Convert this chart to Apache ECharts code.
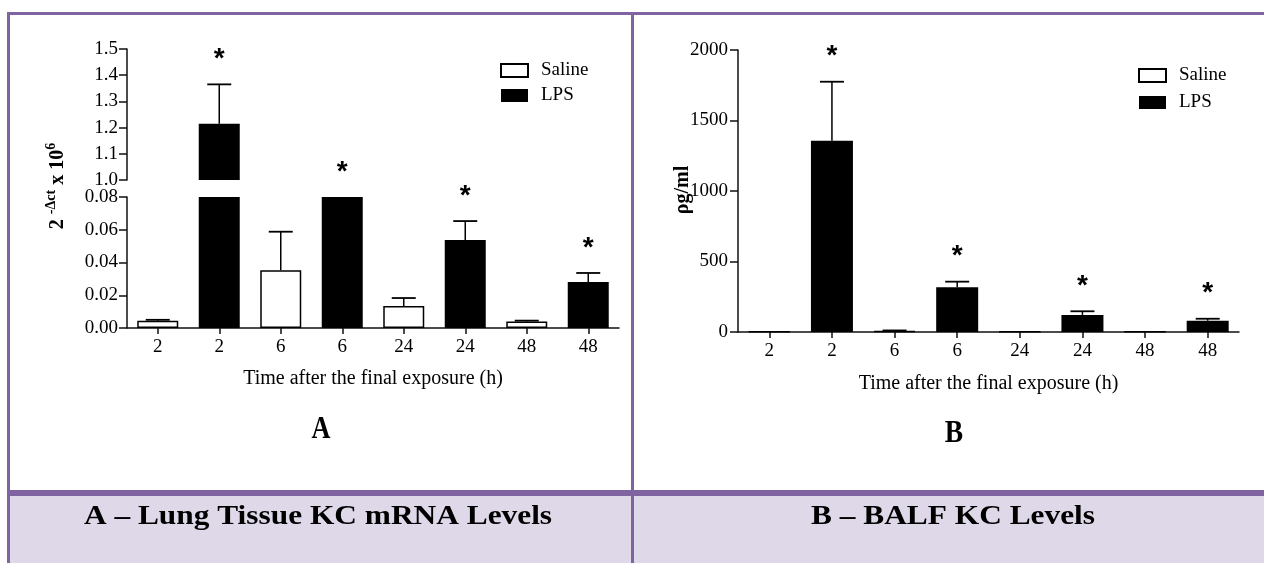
<!DOCTYPE html>
<html>
<head>
<meta charset="utf-8">
<script src="https://cdn.jsdelivr.net/npm/echarts@6/dist/echarts.min.js"></script>
<style>
html,body{margin:0;padding:0;background:#fff;}
#c{width:1264px;height:563px;}
</style>
</head>
<body>
<div id="c"></div>
<script>
// ---------- data ----------
const timePoints = ['2', '6', '24', '48'];
const seriesNames = ['Saline', 'LPS'];

// Panel A: lung tissue KC mRNA (2^-Δct x 10^6), broken axis
const salineA = [0.0045, 0.0352, 0.0134, 0.0039];
const salineSemA = [0.0005, 0.0236, 0.0049, 0.0006];
const lpsA = [1.215, 0.08, 0.0537, 0.0281];
const lpsSemA = [0.15, 0, 0.0116, 0.0055];

// Panel B: BALF KC (pg/ml)
const salineB = [5, 8, 4, 4];
const salineSemB = [2, 3, 2, 2];
const lpsB = [1357, 317, 121, 80];
const lpsSemB = [418, 40, 26, 14];

const lpsSignificant = [true, true, true, true];

// axis ranges [min, max, step]
const axisAUpper = [1.0, 1.5, 0.1];
const axisALower = [0, 0.08, 0.02];
const axisB = [0, 2000, 500];

const xAxisTitle = 'Time after the final exposure (h)';
const captions = ['A \u2013 Lung Tissue KC mRNA Levels', 'B \u2013 BALF KC Levels'];

// ---------- helpers ----------
const categories = timePoints.flatMap(t => [t, t]);
const salineSlots = vals => vals.flatMap(v => [v, null]);
const lpsSlots = vals => vals.flatMap(v => [null, v]);
function errData(sal, salSem, lps, lpsSem) {
  const out = [];
  for (let i = 0; i < sal.length; i++) {
    out.push([2 * i, sal[i], sal[i] + salSem[i], 0]);
    out.push([2 * i + 1, lps[i], lps[i] + lpsSem[i], lpsSignificant[i] ? 1 : 0]);
  }
  return out;
}
const errA = errData(salineA, salineSemA, lpsA, lpsSemA);
const errB = errData(salineB, salineSemB, lpsB, lpsSemB);

const SERIF = '"Liberation Serif", "Times New Roman", serif';
const AXIS_COLOR = '#111';

function makeErr(min, max) {
  return function (params, api) {
    const x = api.value(0), v = api.value(1), top = api.value(2), sig = api.value(3);
    if (v < min - 1e-9 || v > max + 1e-9) return null;
    const base = api.coord([x, v]);
    const tp = api.coord([x, Math.min(top, max)]);
    const children = [];
    if (tp[1] < base[1] - 0.3) {
      children.push({ type: 'line', shape: { x1: base[0], y1: base[1], x2: tp[0], y2: tp[1] },
        style: { stroke: '#000', lineWidth: 1.5 } });
      children.push({ type: 'line', shape: { x1: tp[0] - 12, y1: tp[1], x2: tp[0] + 12, y2: tp[1] },
        style: { stroke: '#000', lineWidth: 1.8 } });
    }
    if (sig) {
      children.push({ type: 'text', x: tp[0], y: tp[1] - 25,
        style: { text: '*', textAlign: 'center', textVerticalAlign: 'middle',
          font: 'bold 28px "Liberation Sans", Arial, sans-serif', fill: '#000' } });
    }
    return { type: 'group', children };
  };
}

function valueAxis(grid, rng, digits, margin) {
  return {
    type: 'value', gridIndex: grid, min: rng[0], max: rng[1], interval: rng[2],
    splitLine: { show: false },
    axisLine: { show: true, lineStyle: { color: AXIS_COLOR, width: 1.5 } },
    axisTick: { show: true, length: 8, lineStyle: { color: AXIS_COLOR, width: 1.5 } },
    axisLabel: { margin: margin, color: '#000', fontFamily: SERIF, fontSize: 19,
      formatter: v => v.toFixed(digits) }
  };
}
function catAxis(grid, visible, gap) {
  return {
    type: 'category', gridIndex: grid, data: categories, show: visible,
    axisLine: { show: visible, lineStyle: { color: AXIS_COLOR, width: 1.5 } },
    axisTick: { show: visible, alignWithLabel: true, length: 6, lineStyle: { color: AXIS_COLOR, width: 1.5 } },
    axisLabel: { show: visible, interval: 0, margin: 10, color: '#000', fontFamily: SERIF, fontSize: 19 },
    name: visible ? xAxisTitle : '', nameLocation: 'middle', nameGap: gap,
    nameTextStyle: { color: '#000', fontFamily: SERIF, fontSize: 20 }
  };
}
const salineStyle = { color: '#fff', borderColor: '#000', borderWidth: 1.5 };
const lpsStyle = { color: '#000', borderColor: '#000', borderWidth: 0 };

const legendBase = {
  orient: 'vertical', itemWidth: 27, itemHeight: 13, icon: 'rect', data: seriesNames,
  selectedMode: false, padding: 0,
  textStyle: { color: '#000', fontFamily: SERIF, fontSize: 19, padding: [0, 0, 0, 8] }
};

const PURPLE = '#8064A2';
const LAVENDER = '#DFD8E8';

const option = {
  animation: false,
  backgroundColor: '#fff',
  grid: [
    { left: 127, top: 49, width: 492, height: 131 },
    { left: 127, top: 197, width: 492, height: 131 },
    { left: 738, top: 50, width: 501, height: 282 }
  ],
  xAxis: [catAxis(0, false, 0), catAxis(1, true, 41), catAxis(2, true, 42)],
  yAxis: [valueAxis(0, axisAUpper, 1, 9), valueAxis(1, axisALower, 2, 9), valueAxis(2, axisB, 0, 10)],
  legend: [
    Object.assign({}, legendBase, { left: 500, top: 61, itemGap: 6 }),
    Object.assign({}, legendBase, { left: 1138, top: 66, itemGap: 8 })
  ],
  series: [
    { name: 'LPS', type: 'bar', xAxisIndex: 0, yAxisIndex: 0, data: lpsSlots(lpsA),
      barWidth: 41, clip: true, itemStyle: lpsStyle },
    { name: 'Saline', type: 'bar', xAxisIndex: 1, yAxisIndex: 1, data: salineSlots(salineA),
      barWidth: 41, barGap: '-100%', clip: true, itemStyle: salineStyle },
    { name: 'LPS', type: 'bar', xAxisIndex: 1, yAxisIndex: 1, data: lpsSlots(lpsA),
      barWidth: 41, barGap: '-100%', clip: true, itemStyle: lpsStyle },
    { name: 'Saline', type: 'bar', xAxisIndex: 2, yAxisIndex: 2, data: salineSlots(salineB),
      barWidth: 42, barGap: '-100%', clip: true, itemStyle: salineStyle },
    { name: 'LPS', type: 'bar', xAxisIndex: 2, yAxisIndex: 2, data: lpsSlots(lpsB),
      barWidth: 42, barGap: '-100%', clip: true, itemStyle: lpsStyle },
    { type: 'custom', xAxisIndex: 0, yAxisIndex: 0, data: errA, clip: false, z: 5,
      renderItem: makeErr(axisAUpper[0], axisAUpper[1]) },
    { type: 'custom', xAxisIndex: 1, yAxisIndex: 1, data: errA, clip: false, z: 5,
      renderItem: makeErr(axisALower[0], axisALower[1]) },
    { type: 'custom', xAxisIndex: 2, yAxisIndex: 2, data: errB, clip: false, z: 5,
      renderItem: makeErr(axisB[0], axisB[1]) }
  ],
  graphic: [
    // frame
    { type: 'rect', shape: { x: 7, y: 12, width: 1257, height: 3 }, style: { fill: PURPLE }, z: 1 },
    { type: 'rect', shape: { x: 7, y: 12, width: 3, height: 551 }, style: { fill: PURPLE }, z: 1 },
    { type: 'rect', shape: { x: 10, y: 496, width: 1254, height: 67 }, style: { fill: LAVENDER }, z: 0 },
    { type: 'rect', shape: { x: 7, y: 490, width: 1257, height: 6 }, style: { fill: PURPLE }, z: 1 },
    { type: 'rect', shape: { x: 631, y: 12, width: 3, height: 551 }, style: { fill: PURPLE }, z: 1 },
    // y axis titles
    { type: 'text', x: 56, y: 186, rotation: Math.PI / 2, z: 10,
      style: { text: '{a|2 }{b|-\u0394ct}{a| x 10}{b|6}', textAlign: 'center', textVerticalAlign: 'middle',
        rich: {
          a: { fontFamily: SERIF, fontWeight: 'bold', fontSize: 20, fill: '#000', verticalAlign: 'bottom', lineHeight: 24 },
          b: { fontFamily: SERIF, fontWeight: 'bold', fontSize: 14, fill: '#000', verticalAlign: 'top', lineHeight: 24 }
        } } },
    { type: 'text', x: 683, y: 190, rotation: Math.PI / 2, z: 10,
      style: { text: '\u03c1g/ml', textAlign: 'center', textVerticalAlign: 'middle',
        font: 'bold 20px ' + SERIF, fill: '#000' } },
    // panel letters
    { type: 'text', x: 321, y: 430, scaleX: 0.82, z: 10,
      style: { text: 'A', textAlign: 'center', textVerticalAlign: 'middle', font: 'bold 32px ' + SERIF, fill: '#000' } },
    { type: 'text', x: 954, y: 434, scaleX: 0.86, z: 10,
      style: { text: 'B', textAlign: 'center', textVerticalAlign: 'middle', font: 'bold 32px ' + SERIF, fill: '#000' } },
    // captions
    { type: 'text', x: 318, y: 517, scaleX: 1.12, z: 10,
      style: { text: captions[0], textAlign: 'center', textVerticalAlign: 'middle', font: 'bold 28px ' + SERIF, fill: '#000' } },
    { type: 'text', x: 953, y: 517, scaleX: 1.12, z: 10,
      style: { text: captions[1], textAlign: 'center', textVerticalAlign: 'middle', font: 'bold 28px ' + SERIF, fill: '#000' } }
  ]
};

const chart = echarts.init(document.getElementById('c'), null, { renderer: 'canvas' });
chart.setOption(option);
</script>
</body>
</html>
